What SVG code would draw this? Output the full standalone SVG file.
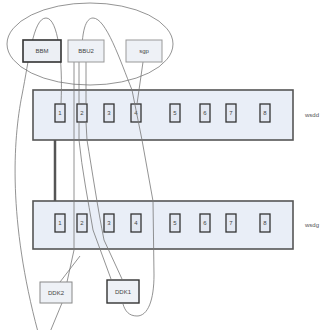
<svg xmlns="http://www.w3.org/2000/svg" width="334" height="330" viewBox="0 0 334 330">
<style>
.bar{fill:#e9eef7;stroke:#555;stroke-width:1.6}
.cell{fill:#e3e8f2;stroke:#333;stroke-width:1.3}
.t{font-family:"Liberation Sans",Arial,sans-serif;font-size:6px;fill:#444;text-anchor:middle}
.lbl{font-family:"Liberation Sans",Arial,sans-serif;font-size:6px;fill:#555}
.w{fill:none;stroke:#777;stroke-width:0.8}
</style>
<rect width="334" height="330" fill="#fff"/>
<g id="cluster">
<ellipse cx="90" cy="44" rx="83" ry="41" fill="none" stroke="#888" stroke-width="0.9"/>
</g>
<g id="top-bar">
<rect class="bar" x="33" y="90" width="260" height="50"/>
<rect class="cell" x="55" y="104" width="10" height="18"/><text class="t" x="60" y="115">1</text>
<rect class="cell" x="77" y="104" width="10" height="18"/><text class="t" x="82" y="115">2</text>
<rect class="cell" x="104" y="104" width="10" height="18"/><text class="t" x="109" y="115">3</text>
<rect class="cell" x="131" y="104" width="10" height="18"/><text class="t" x="136" y="115">4</text>
<rect class="cell" x="170" y="104" width="10" height="18"/><text class="t" x="175" y="115">5</text>
<rect class="cell" x="200" y="104" width="10" height="18"/><text class="t" x="205" y="115">6</text>
<rect class="cell" x="226" y="104" width="10" height="18"/><text class="t" x="231" y="115">7</text>
<rect class="cell" x="260" y="104" width="10" height="18"/><text class="t" x="265" y="115">8</text>
<text class="lbl" x="305" y="117">wsdd</text>
</g>
<g id="bottom-bar">
<rect class="bar" x="33" y="201" width="260" height="48"/>
<rect class="cell" x="55" y="214" width="10" height="18"/><text class="t" x="60" y="225">1</text>
<rect class="cell" x="77" y="214" width="10" height="18"/><text class="t" x="82" y="225">2</text>
<rect class="cell" x="104" y="214" width="10" height="18"/><text class="t" x="109" y="225">3</text>
<rect class="cell" x="131" y="214" width="10" height="18"/><text class="t" x="136" y="225">4</text>
<rect class="cell" x="170" y="214" width="10" height="18"/><text class="t" x="175" y="225">5</text>
<rect class="cell" x="200" y="214" width="10" height="18"/><text class="t" x="205" y="225">6</text>
<rect class="cell" x="226" y="214" width="10" height="18"/><text class="t" x="231" y="225">7</text>
<rect class="cell" x="260" y="214" width="10" height="18"/><text class="t" x="265" y="225">8</text>
<text class="lbl" x="305" y="227">wsdg</text>
</g>
<g id="connectors">
<path class="w" d="M61 104 C63 60 58 18 46 18 C33 18 29 60 22 95 C13 140 8 220 38 332"/>
<path class="w" d="M62 303 L50 332"/>
<path class="w" d="M82 62 C81 30 86 18 93 18 C106 18 120 60 132 90 L142 140 L153 201 L154 275 C154 300 148 316 137 316 C129 316 125 311 123 304"/>
<path class="w" d="M74 62 L74 250 L67 282"/>
<path class="w" d="M79 62 L79 104 M79 122 L79 140 C82 170 88 200 93 230 L111 279"/>
<path class="w" d="M86 62 L86 104 M86 122 L87 140 C92 170 98 210 104 240 L122 279"/>
<path class="w" d="M143 62 L137 104"/>
<path class="w" d="M80 256 L60 282"/>
<line x1="55" y1="140" x2="55" y2="201" stroke="#555" stroke-width="2.5"/>
</g>
<g id="BBM">
<rect x="23" y="40" width="38" height="22" fill="#eceff4" stroke="#333" stroke-width="1.6"/>
<text class="t" x="42" y="53">BBM</text>
</g>
<g id="BBU2">
<rect x="68" y="40" width="36" height="22" fill="#eef1f6" stroke="#999" stroke-width="1"/>
<text class="t" x="86" y="53">BBU2</text>
</g>
<g id="sgp">
<rect x="126" y="40" width="36" height="22" fill="#eef1f6" stroke="#999" stroke-width="1"/>
<text class="t" x="144" y="53">sgp</text>
</g>
<g id="DDK2">
<rect x="40" y="282" width="32" height="21" fill="#eef1f6" stroke="#888" stroke-width="1"/>
<text class="t" x="56" y="295">DDK2</text>
</g>
<g id="DDK1">
<rect x="107" y="280" width="32" height="23" fill="#eef1f6" stroke="#333" stroke-width="1.4"/>
<text class="t" x="123" y="294">DDK1</text>
</g>
</svg>
